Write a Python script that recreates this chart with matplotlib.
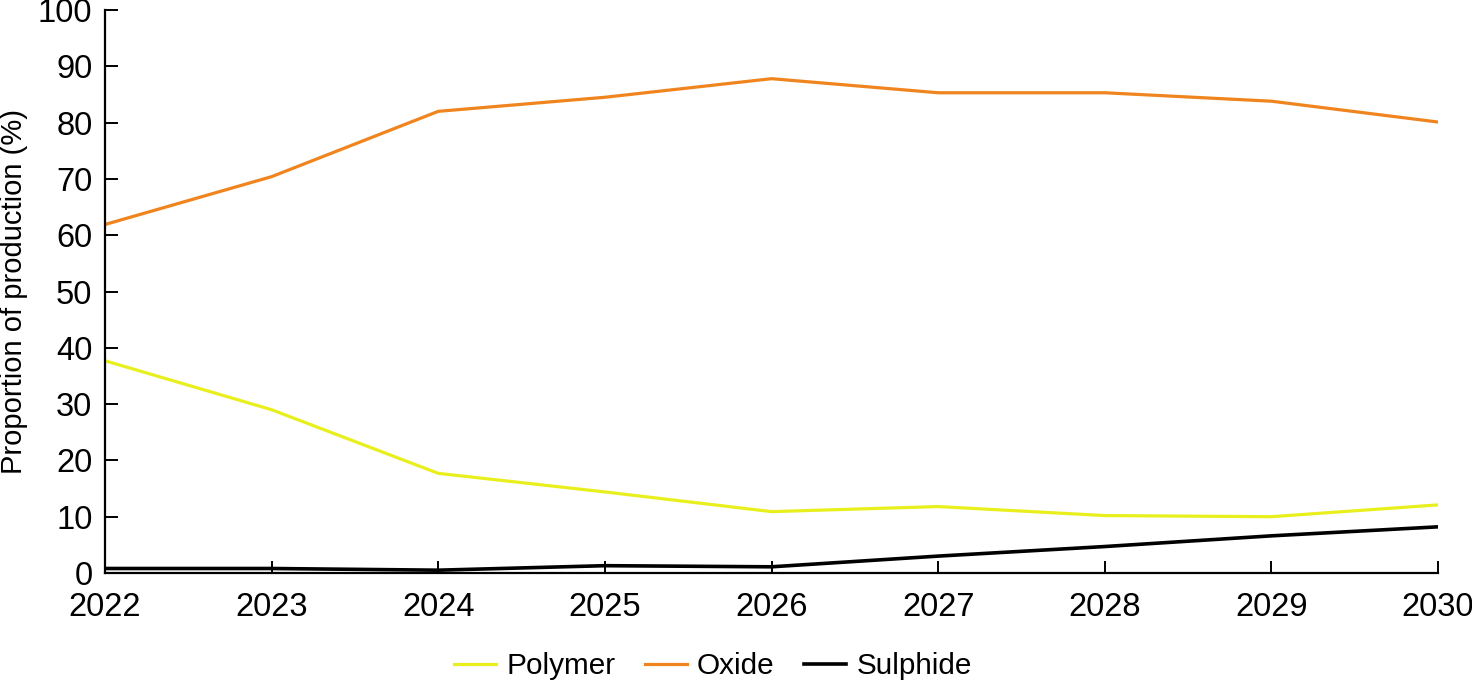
import matplotlib
matplotlib.use("Agg")
import matplotlib.pyplot as plt

plt.rcParams['font.family'] = ['Liberation Sans', 'DejaVu Sans']

years = [2022, 2023, 2024, 2025, 2026, 2027, 2028, 2029, 2030]
polymer = [37.7, 29.0, 17.7, 14.4, 10.9, 11.8, 10.2, 10.0, 12.1]
oxide = [61.9, 70.4, 82.0, 84.5, 87.8, 85.3, 85.3, 83.8, 80.1]
sulphide = [0.8, 0.8, 0.5, 1.3, 1.1, 3.0, 4.7, 6.6, 8.2]

fig = plt.figure(figsize=(14.72, 6.83), dpi=100)
ax = fig.add_axes([105/1472, 110/683, 1333/1472, 563/683])

ax.plot(years, polymer, color='#E8EF1C', lw=2.3, label='Polymer')
ax.plot(years, oxide, color='#F0841E', lw=2.3, label='Oxide')
ax.plot(years, sulphide, color='black', lw=2.6, label='Sulphide')

ax.set_xlim(2022, 2030)
ax.set_ylim(0, 100)
ax.set_xticks(years)
ax.set_yticks(range(0, 101, 10))
ax.spines['top'].set_visible(False)
ax.spines['right'].set_visible(False)
ax.spines['left'].set_linewidth(1.6)
ax.spines['bottom'].set_linewidth(1.6)
ax.tick_params(axis='both', direction='in', length=9, width=1.4, labelsize=23.5)
ax.tick_params(axis='x', pad=14)
ax.tick_params(axis='y', pad=9)
ax.set_ylabel('Proportion of production (%)', fontsize=21)
ax.yaxis.set_label_coords(-0.058, 0.5)

fig.legend(*ax.get_legend_handles_labels(), loc='center',
           bbox_to_anchor=(713/1472, 17/683), ncol=3, frameon=False,
           fontsize=21.4, handlelength=1.4, columnspacing=1.0, handletextpad=0.35)

fig.savefig('out.png', dpi=100)
